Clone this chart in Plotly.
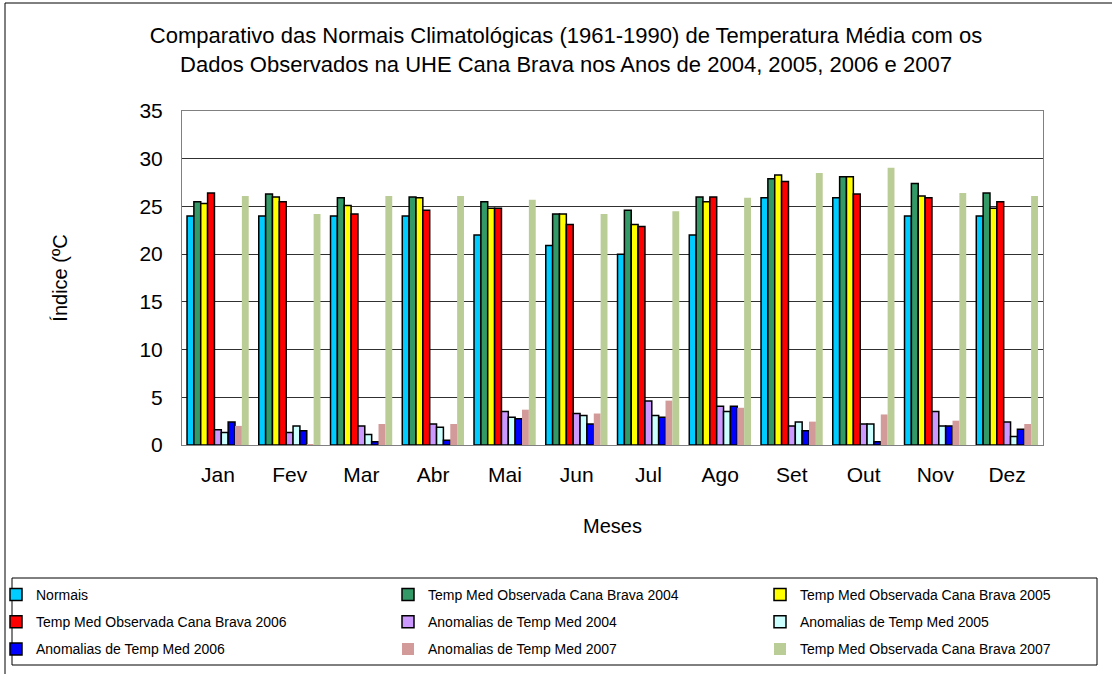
import plotly.graph_objects as go

months = ["Jan", "Fev", "Mar", "Abr", "Mai", "Jun", "Jul", "Ago", "Set", "Out", "Nov", "Dez"]

normais = [24.0, 24.0, 24.0, 24.0, 22.0, 20.9, 20.0, 22.0, 25.9, 25.9, 24.0, 24.0]
obs_2004 = [25.5, 26.3, 25.9, 26.0, 25.5, 24.2, 24.6, 26.0, 27.9, 28.1, 27.4, 26.4]
obs_2005 = [25.3, 26.0, 25.1, 25.9, 24.8, 24.2, 23.1, 25.5, 28.3, 28.1, 26.1, 24.8]
obs_2006 = [26.4, 25.5, 24.2, 24.6, 24.8, 23.1, 22.9, 26.0, 27.6, 26.3, 25.9, 25.5]
anom_2004 = [1.6, 1.3, 2.0, 2.2, 3.5, 3.3, 4.6, 4.05, 2.0, 2.2, 3.5, 2.4]
anom_2005 = [1.3, 2.0, 1.1, 1.85, 2.9, 3.1, 3.1, 3.5, 2.4, 2.2, 2.0, 0.9]
anom_2006 = [2.4, 1.5, 0.35, 0.5, 2.75, 2.2, 2.9, 4.05, 1.5, 0.35, 2.0, 1.65]
anom_2007 = [2.0, 0.1, 2.2, 2.2, 3.7, 3.3, 4.65, 3.9, 2.45, 3.2, 2.55, 2.2]
obs_2007 = [26.1, 24.2, 26.1, 26.1, 25.7, 24.2, 24.5, 25.9, 28.5, 29.05, 26.4, 26.1]

series = [
    ("Normais", normais, "#00CCFF", True, "legend"),
    ("Temp Med Observada Cana Brava 2004", obs_2004, "#339966", True, "legend2"),
    ("Temp Med Observada Cana Brava 2005", obs_2005, "#FFFF00", True, "legend3"),
    ("Temp Med Observada Cana Brava 2006", obs_2006, "#FF0000", True, "legend"),
    ("Anomalias de Temp Med 2004", anom_2004, "#CC99FF", True, "legend2"),
    ("Anomalias de Temp Med 2005", anom_2005, "#CCFFFF", True, "legend3"),
    ("Anomalias de Temp Med 2006", anom_2006, "#0000FF", True, "legend"),
    ("Anomalias de Temp Med 2007", anom_2007, "#D39A9A", False, "legend2"),
    ("Temp Med Observada Cana Brava 2007", obs_2007, "#BACD96", False, "legend3"),
]

W, H = 1112, 674
L, R, T, B = 182, 69, 111, 229
PW, PH = W - L - R, H - T - B


def px(x):
    return (x - L) / PW


def py(y):
    return (H - B - y) / PH


FONT = "Liberation Sans, Arial, sans-serif"

fig = go.Figure()
for i, (name, vals, color, outline, leg) in enumerate(series):
    fig.add_trace(go.Bar(
        name=name, x=months, y=vals,
        marker=dict(color=color,
                    line=dict(color="#000000", width=1.5 if outline else 0)),
        legend=leg, legendgroup=f"g{i}",
    ))

legend_common = dict(
    orientation="v", yanchor="top", xanchor="left",
    font=dict(family=FONT, size=14, color="#000000"),
    bgcolor="rgba(0,0,0,0)", borderwidth=0, itemwidth=30,
    tracegroupgap=6, itemclick=False, itemdoubleclick=False,
)

fig.update_layout(
    width=W, height=H,
    margin=dict(l=L, r=R, t=T, b=B, autoexpand=False),
    paper_bgcolor="white", plot_bgcolor="white",
    barmode="group", bargap=0.14, bargroupgap=0,
    font=dict(family=FONT, size=20, color="#000000"),
    title=dict(
        text="Comparativo das Normais Climatológicas (1961-1990) de Temperatura Média com os<br>"
             "Dados Observados na UHE Cana Brava nos Anos de 2004, 2005, 2006 e 2007",
        x=566 / W, xref="container", xanchor="center",
        y=1 - 43 / H, yref="container", yanchor="middle",
        font=dict(family=FONT, size=22, color="#000000"),
    ),
    xaxis=dict(
        showgrid=False, showline=True, linecolor="#808080", linewidth=1, mirror=True,
        ticks="", ticklabelstandoff=11,
        tickfont=dict(family=FONT, size=21),
        title=dict(text="Meses", font=dict(family=FONT, size=20), standoff=33),
    ),
    yaxis=dict(
        range=[0, 35], dtick=5, showgrid=True, gridcolor="#303030", gridwidth=1,
        showline=True, linecolor="#808080", linewidth=1, mirror=True,
        zeroline=False, ticks="", ticklabelstandoff=14,
        tickfont=dict(family=FONT, size=21),
        title=dict(text="Índice (ºC", font=dict(family=FONT, size=20), standoff=66),
    ),
    legend=dict(x=px(-4), y=py(579), **legend_common),
    legend2=dict(x=px(388), y=py(579), **legend_common),
    legend3=dict(x=px(760), y=py(579), **legend_common),
    shapes=[
        dict(type="rect", xref="paper", yref="paper",
             x0=px(12), x1=px(1097), y0=py(665), y1=py(578),
             line=dict(color="#000000", width=1), fillcolor="rgba(0,0,0,0)"),
        dict(type="line", xref="paper", yref="paper",
             x0=px(5), x1=px(1112), y0=py(3), y1=py(3),
             line=dict(color="#000000", width=1)),
        dict(type="line", xref="paper", yref="paper",
             x0=px(5), x1=px(5), y0=py(3), y1=py(674),
             line=dict(color="#000000", width=1)),
    ],
)

fig.write_html("out.html", config={"displayModeBar": False},
               post_script="document.body.style.margin='0';document.body.style.overflow='hidden';")
